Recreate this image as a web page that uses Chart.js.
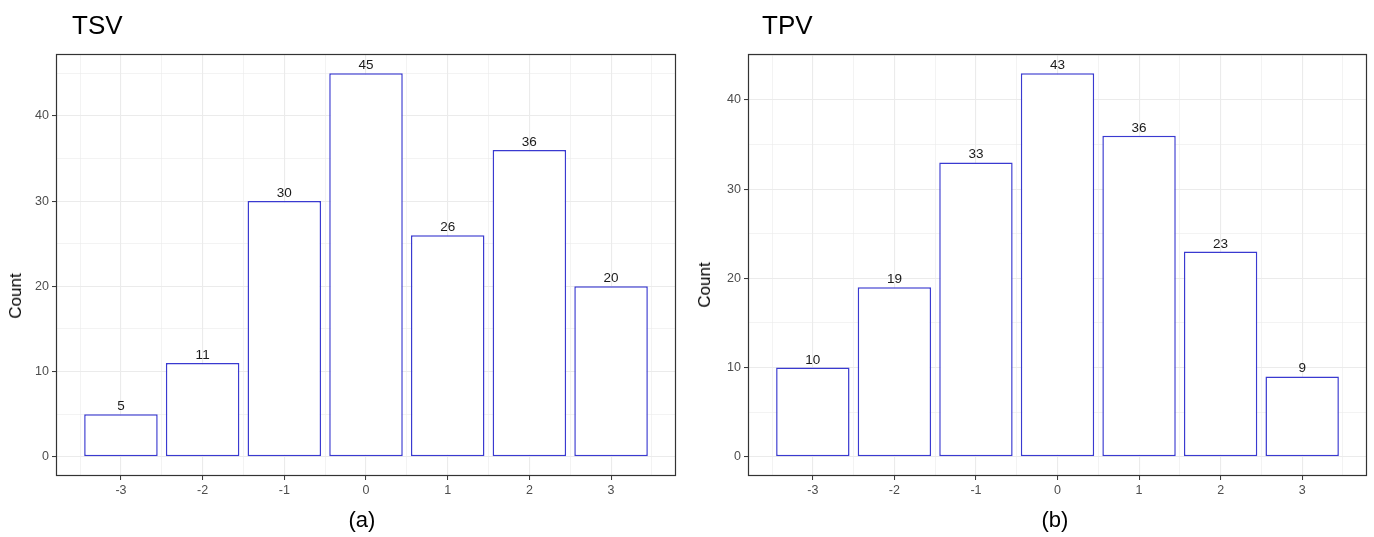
<!DOCTYPE html>
<html>
<head>
<meta charset="utf-8">
<script src="https://cdn.jsdelivr.net/npm/chart.js@4.4.1/dist/chart.umd.min.js"></script>
<style>
  html, body { margin: 0; padding: 0; background: #fff; }
  body { width: 1374px; height: 537px; position: relative; overflow: hidden;
         font-family: "Liberation Sans", Arial, sans-serif; }
  .panel { position: absolute; top: 0; height: 537px; }
  .title { position: absolute; top: 12px; font-size: 26px; line-height: 26px; color: #000; }
  .caption { position: absolute; top: 509px; width: 100px; text-align: center;
             font-size: 22px; line-height: 22px; color: #000; }
  .ylab { position: absolute; font-size: 17px; white-space: nowrap; color: #000;
          transform: translate(-50%, -50%) rotate(-90deg); }
</style>
</head>
<body>

<div class="panel" style="left:0; width:690px;"><canvas id="tsvChart"></canvas></div>
<div class="panel" style="left:690px; width:684px;"><canvas id="tpvChart"></canvas></div>

<div class="title" style="left:72px;">TSV</div>
<div class="title" style="left:762px;">TPV</div>
<div class="ylab" style="left:16px; top:296px;">Count</div>
<div class="ylab" style="left:705px; top:285px;">Count</div>
<div class="caption" style="left:312px;">(a)</div>
<div class="caption" style="left:1005px;">(b)</div>

<script>
/* =========================
   DATA
========================= */

const voteLevels = [-3, -2, -1, 0, 1, 2, 3];
const tsvCounts = [5, 11, 30, 45, 26, 36, 20];
const tpvCounts = [10, 19, 33, 43, 36, 23, 9];

const xMajorTicks = [-3, -2, -1, 0, 1, 2, 3];
const xMinorTicks = [-3.5, -2.5, -1.5, -0.5, 0.5, 1.5, 2.5, 3.5];
const yMajorTicks = [0, 10, 20, 30, 40];
const yMinorTicks = [5, 15, 25, 35, 45];

/* =========================
   SHARED STYLE
========================= */

Chart.defaults.font.family = '"Liberation Sans", Arial, sans-serif';
Chart.defaults.animation = false;

const gridColor = "#ebebeb";
const frameColor = "#333333";
const tickTextColor = "#4d4d4d";
const barLine = "#3a3ad0";

/* ---------- frame round the panel ---------- */
const framePlugin = {
    id: "frame",
    afterDraw(chart) {
        const a = chart.chartArea;
        const ctx = chart.ctx;
        ctx.save();
        ctx.strokeStyle = frameColor;
        ctx.lineWidth = 1.2;
        ctx.strokeRect(a.left + 0.5, a.top + 0.5, a.right - a.left - 1, a.bottom - a.top - 1);
        ctx.restore();
    }
};

/* ---------- count labels above bars ---------- */
const valueLabels = {
    id: "valueLabels",
    afterDatasetsDraw(chart) {
        const ctx = chart.ctx;
        const meta = chart.getDatasetMeta(0);
        const data = chart.data.datasets[0].data;
        ctx.save();
        ctx.font = '13.5px "Liberation Sans", Arial, sans-serif';
        ctx.fillStyle = "#1a1a1a";
        ctx.textAlign = "center";
        ctx.textBaseline = "bottom";
        meta.data.forEach((bar, i) => {
            ctx.fillText(String(data[i].y), bar.x, bar.y - 1);
        });
        ctx.restore();
    }
};

function mixTicks(major, minor) {
    return major.concat(minor).sort((a, b) => a - b).map(v => ({ value: v }));
}

// major / minor test that tolerates contexts without a tick
function isMajor(c, majors) {
    return !!(c && c.tick && majors.includes(c.tick.value));
}

/* =========================
   BUILD ONE PANEL
========================= */

function drawPanel(canvasId, counts, yMin, yMax, yAxisWidth, padRight) {
    const points = voteLevels.map((x, i) => ({ x: x, y: counts[i] }));

    new Chart(document.getElementById(canvasId), {
        type: "bar",
        data: {
            datasets: [{
                data: points,
                backgroundColor: "#ffffff",
                borderColor: barLine,
                borderWidth: 1.5,
                borderSkipped: false,
                // ruler spacing is the half-unit minor tick, so 1.8 gives 0.9 units
                categoryPercentage: 1,
                barPercentage: 1.8
            }]
        },
        options: {
            responsive: true,
            maintainAspectRatio: false,
            layout: { padding: { top: 54, right: padRight, bottom: 37, left: 0 } },
            plugins: {
                legend: { display: false },
                tooltip: { enabled: false }
            },
            scales: {
                x: {
                    type: "linear",
                    min: -3.795,
                    max: 3.795,
                    offset: false,
                    afterBuildTicks: axis => { axis.ticks = mixTicks(xMajorTicks, xMinorTicks); },
                    afterFit: axis => { axis.height = 24; },
                    border: { display: false },
                    grid: {
                        offset: false,
                        color: gridColor,
                        lineWidth: c => isMajor(c, xMajorTicks) ? 1.1 : 0.6,
                        tickColor: c => isMajor(c, xMajorTicks) ? frameColor : "rgba(0,0,0,0)",
                        tickLength: 4,
                        tickWidth: 1
                    },
                    ticks: {
                        autoSkip: false,
                        maxRotation: 0,
                        padding: 3,
                        color: tickTextColor,
                        font: { size: 12.5 },
                        callback: v => xMajorTicks.includes(v) ? String(v) : ""
                    }
                },
                y: {
                    min: yMin,
                    max: yMax,
                    afterBuildTicks: axis => {
                        axis.ticks = mixTicks(yMajorTicks, yMinorTicks.filter(v => v < yMax));
                    },
                    afterFit: axis => { axis.width = yAxisWidth; },
                    border: { display: false },
                    grid: {
                        color: gridColor,
                        lineWidth: c => isMajor(c, yMajorTicks) ? 1.1 : 0.6,
                        tickColor: c => isMajor(c, yMajorTicks) ? frameColor : "rgba(0,0,0,0)",
                        tickLength: 4,
                        tickWidth: 1
                    },
                    ticks: {
                        autoSkip: false,
                        padding: 3,
                        color: tickTextColor,
                        font: { size: 12.5 },
                        callback: v => yMajorTicks.includes(v) ? String(v) : ""
                    }
                }
            }
        },
        plugins: [valueLabels, framePlugin]
    });
}

drawPanel("tsvChart", tsvCounts, -2.25, 47.25, 56, 14);
drawPanel("tpvChart", tpvCounts, -2.15, 45.15, 58, 7);
</script>
</body>
</html>
